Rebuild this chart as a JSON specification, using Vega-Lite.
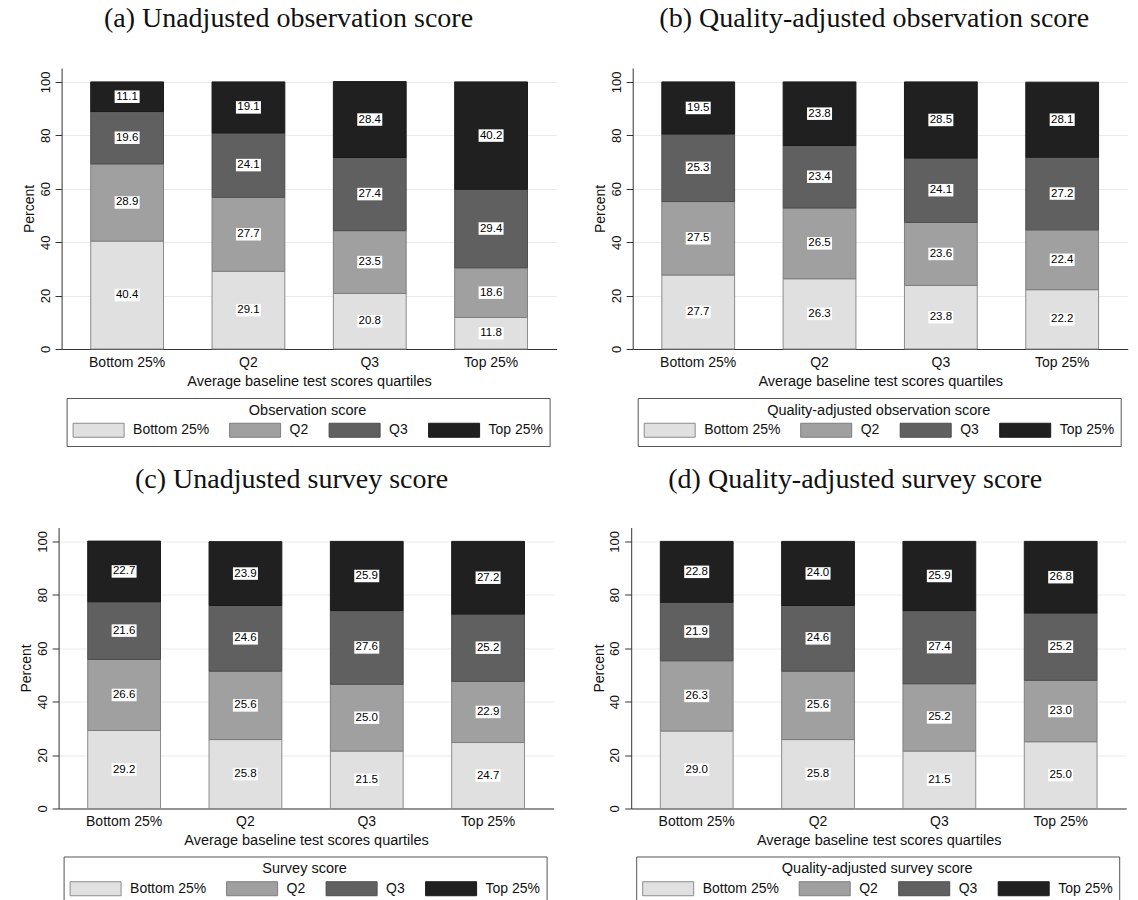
{
  "$schema": "https://vega.github.io/schema/vega-lite/v6.json",
  "padding": {"left": 12.6, "top": 5, "right": 0, "bottom": 0},
  "datasets": {
    "a": [
      {"q": "Bottom 25%", "g": "Bottom 25%", "v": 40.4}, {"q": "Bottom 25%", "g": "Q2", "v": 28.9}, {"q": "Bottom 25%", "g": "Q3", "v": 19.6}, {"q": "Bottom 25%", "g": "Top 25%", "v": 11.1},
      {"q": "Q2", "g": "Bottom 25%", "v": 29.1}, {"q": "Q2", "g": "Q2", "v": 27.7}, {"q": "Q2", "g": "Q3", "v": 24.1}, {"q": "Q2", "g": "Top 25%", "v": 19.1},
      {"q": "Q3", "g": "Bottom 25%", "v": 20.8}, {"q": "Q3", "g": "Q2", "v": 23.5}, {"q": "Q3", "g": "Q3", "v": 27.4}, {"q": "Q3", "g": "Top 25%", "v": 28.4},
      {"q": "Top 25%", "g": "Bottom 25%", "v": 11.8}, {"q": "Top 25%", "g": "Q2", "v": 18.6}, {"q": "Top 25%", "g": "Q3", "v": 29.4}, {"q": "Top 25%", "g": "Top 25%", "v": 40.2}
    ],
    "b": [
      {"q": "Bottom 25%", "g": "Bottom 25%", "v": 27.7}, {"q": "Bottom 25%", "g": "Q2", "v": 27.5}, {"q": "Bottom 25%", "g": "Q3", "v": 25.3}, {"q": "Bottom 25%", "g": "Top 25%", "v": 19.5},
      {"q": "Q2", "g": "Bottom 25%", "v": 26.3}, {"q": "Q2", "g": "Q2", "v": 26.5}, {"q": "Q2", "g": "Q3", "v": 23.4}, {"q": "Q2", "g": "Top 25%", "v": 23.8},
      {"q": "Q3", "g": "Bottom 25%", "v": 23.8}, {"q": "Q3", "g": "Q2", "v": 23.6}, {"q": "Q3", "g": "Q3", "v": 24.1}, {"q": "Q3", "g": "Top 25%", "v": 28.5},
      {"q": "Top 25%", "g": "Bottom 25%", "v": 22.2}, {"q": "Top 25%", "g": "Q2", "v": 22.4}, {"q": "Top 25%", "g": "Q3", "v": 27.2}, {"q": "Top 25%", "g": "Top 25%", "v": 28.1}
    ],
    "c": [
      {"q": "Bottom 25%", "g": "Bottom 25%", "v": 29.2}, {"q": "Bottom 25%", "g": "Q2", "v": 26.6}, {"q": "Bottom 25%", "g": "Q3", "v": 21.6}, {"q": "Bottom 25%", "g": "Top 25%", "v": 22.7},
      {"q": "Q2", "g": "Bottom 25%", "v": 25.8}, {"q": "Q2", "g": "Q2", "v": 25.6}, {"q": "Q2", "g": "Q3", "v": 24.6}, {"q": "Q2", "g": "Top 25%", "v": 23.9},
      {"q": "Q3", "g": "Bottom 25%", "v": 21.5}, {"q": "Q3", "g": "Q2", "v": 25.0}, {"q": "Q3", "g": "Q3", "v": 27.6}, {"q": "Q3", "g": "Top 25%", "v": 25.9},
      {"q": "Top 25%", "g": "Bottom 25%", "v": 24.7}, {"q": "Top 25%", "g": "Q2", "v": 22.9}, {"q": "Top 25%", "g": "Q3", "v": 25.2}, {"q": "Top 25%", "g": "Top 25%", "v": 27.2}
    ],
    "d": [
      {"q": "Bottom 25%", "g": "Bottom 25%", "v": 29.0}, {"q": "Bottom 25%", "g": "Q2", "v": 26.3}, {"q": "Bottom 25%", "g": "Q3", "v": 21.9}, {"q": "Bottom 25%", "g": "Top 25%", "v": 22.8},
      {"q": "Q2", "g": "Bottom 25%", "v": 25.8}, {"q": "Q2", "g": "Q2", "v": 25.6}, {"q": "Q2", "g": "Q3", "v": 24.6}, {"q": "Q2", "g": "Top 25%", "v": 24.0},
      {"q": "Q3", "g": "Bottom 25%", "v": 21.5}, {"q": "Q3", "g": "Q2", "v": 25.2}, {"q": "Q3", "g": "Q3", "v": 27.4}, {"q": "Q3", "g": "Top 25%", "v": 25.9},
      {"q": "Top 25%", "g": "Bottom 25%", "v": 25.0}, {"q": "Top 25%", "g": "Q2", "v": 23.0}, {"q": "Top 25%", "g": "Q3", "v": 25.2}, {"q": "Top 25%", "g": "Top 25%", "v": 26.8}
    ]
  },
  "resolve": {"scale": {"color": "independent", "stroke": "independent"}, "legend": {"color": "independent", "stroke": "independent"}},
  "columns": 1,
  "align": "none",
  "spacing": 18.5,
  "concat": [
    {
      "spacing": 37.1,
      "resolve": {"scale": {"color": "independent", "stroke": "independent"}, "legend": {"color": "independent", "stroke": "independent"}},
      "hconcat": [
        {
          "spacing": 0,
          "resolve": {"scale": {"color": "independent", "stroke": "independent"}, "legend": {"color": "independent", "stroke": "independent"}},
          "hconcat": [
            {"width": 6.6, "height": 1, "data": {"values": [{"s": 0}]}, "mark": {"type": "point", "opacity": 0}, "encoding": {}},
            {
              "title": {"text": "(a) Unadjusted observation score", "dx": -20.6, "offset": 34.8},
              "data": {"name": "a"},
              "width": 495, "height": 281,
              "encoding": {
                "x": {"field": "q", "type": "nominal", "sort": ["Bottom 25%", "Q2", "Q3", "Top 25%"], "scale": {"paddingInner": 0.4, "paddingOuter": 0.24}, "axis": {"title": "Average baseline test scores quartiles"}},
                "y": {"field": "v", "type": "quantitative", "stack": "zero", "scale": {"domain": [0, 105.2], "nice": false}, "axis": {"title": "Percent", "values": [0, 20, 40, 60, 80, 100], "titlePadding": 2.5}},
                "order": {"field": "g", "type": "ordinal", "sort": "ascending"}
              },
              "layer": [
                {"mark": {"type": "bar", "strokeWidth": 1},
                 "encoding": {
                   "color": {"field": "g", "type": "nominal", "scale": {"domain": ["Bottom 25%", "Q2", "Q3", "Top 25%"], "range": ["#e0e0e0", "#a0a0a0", "#606060", "#202020"]}, "legend": {"title": "Observation score", "orient": "none", "legendX": 5, "legendY": 330, "direction": "horizontal", "columns": 4}},
                   "stroke": {"field": "g", "type": "nominal", "scale": {"domain": ["Bottom 25%", "Q2", "Q3", "Top 25%"], "range": ["#8c8c8c", "#7d7d7d", "#4d4d4d", "#1a1a1a"]}, "legend": null}
                 }},
                {"mark": {"type": "point", "shape": "M-1,-0.5H1V0.5H-1Z", "size": 625, "filled": true, "fill": "#ffffff", "opacity": 1, "strokeWidth": 0},
                 "encoding": {"detail": {"field": "g"}, "y": {"field": "v", "type": "quantitative", "stack": "zero", "bandPosition": 0.5}}},
                {"mark": {"type": "text", "fontSize": 11.5, "color": "#000000", "baseline": "middle", "align": "center"},
                 "encoding": {"detail": {"field": "g"}, "y": {"field": "v", "type": "quantitative", "stack": "zero", "bandPosition": 0.5}, "text": {"field": "v", "type": "quantitative", "format": ".1f"}}}
              ]
            }
          ]
        },
        {
          "title": {"text": "(b) Quality-adjusted observation score", "dx": -6, "offset": 34.8},
          "data": {"name": "b"},
          "width": 495, "height": 281,
          "encoding": {
            "x": {"field": "q", "type": "nominal", "sort": ["Bottom 25%", "Q2", "Q3", "Top 25%"], "scale": {"paddingInner": 0.4, "paddingOuter": 0.24}, "axis": {"title": "Average baseline test scores quartiles"}},
            "y": {"field": "v", "type": "quantitative", "stack": "zero", "scale": {"domain": [0, 105.2], "nice": false}, "axis": {"title": "Percent", "values": [0, 20, 40, 60, 80, 100], "titlePadding": 2.5}},
            "order": {"field": "g", "type": "ordinal", "sort": "ascending"}
          },
          "layer": [
            {"mark": {"type": "bar", "strokeWidth": 1},
             "encoding": {
               "color": {"field": "g", "type": "nominal", "scale": {"domain": ["Bottom 25%", "Q2", "Q3", "Top 25%"], "range": ["#e0e0e0", "#a0a0a0", "#606060", "#202020"]}, "legend": {"title": "Quality-adjusted observation score", "orient": "none", "legendX": 5, "legendY": 330, "direction": "horizontal", "columns": 4}},
               "stroke": {"field": "g", "type": "nominal", "scale": {"domain": ["Bottom 25%", "Q2", "Q3", "Top 25%"], "range": ["#8c8c8c", "#7d7d7d", "#4d4d4d", "#1a1a1a"]}, "legend": null}
             }},
            {"mark": {"type": "point", "shape": "M-1,-0.5H1V0.5H-1Z", "size": 625, "filled": true, "fill": "#ffffff", "opacity": 1, "strokeWidth": 0},
             "encoding": {"detail": {"field": "g"}, "y": {"field": "v", "type": "quantitative", "stack": "zero", "bandPosition": 0.5}}},
            {"mark": {"type": "text", "fontSize": 11.5, "color": "#000000", "baseline": "middle", "align": "center"},
             "encoding": {"detail": {"field": "g"}, "y": {"field": "v", "type": "quantitative", "stack": "zero", "bandPosition": 0.5}, "text": {"field": "v", "type": "quantitative", "format": ".1f"}}}
          ]
        }
      ]
    },
    {
      "spacing": 38.6,
      "resolve": {"scale": {"color": "independent", "stroke": "independent"}, "legend": {"color": "independent", "stroke": "independent"}},
      "hconcat": [
        {
          "spacing": 0,
          "resolve": {"scale": {"color": "independent", "stroke": "independent"}, "legend": {"color": "independent", "stroke": "independent"}},
          "hconcat": [
            {"width": 1, "height": 1, "data": {"values": [{"s": 0}]}, "mark": {"type": "point", "opacity": 0}, "encoding": {}},
            {
              "title": {"text": "(c) Unadjusted survey score", "dx": -14.5, "offset": 33.6},
              "data": {"name": "c"},
              "width": 495, "height": 281,
              "encoding": {
                "x": {"field": "q", "type": "nominal", "sort": ["Bottom 25%", "Q2", "Q3", "Top 25%"], "scale": {"paddingInner": 0.4, "paddingOuter": 0.24}, "axis": {"title": "Average baseline test scores quartiles"}},
                "y": {"field": "v", "type": "quantitative", "stack": "zero", "scale": {"domain": [0, 105.2], "nice": false}, "axis": {"title": "Percent", "values": [0, 20, 40, 60, 80, 100], "titlePadding": 2.5}},
                "order": {"field": "g", "type": "ordinal", "sort": "ascending"}
              },
              "layer": [
                {"mark": {"type": "bar", "strokeWidth": 1},
                 "encoding": {
                   "color": {"field": "g", "type": "nominal", "scale": {"domain": ["Bottom 25%", "Q2", "Q3", "Top 25%"], "range": ["#e0e0e0", "#a0a0a0", "#606060", "#202020"]}, "legend": {"title": "Survey score", "orient": "none", "legendX": 5, "legendY": 329, "direction": "horizontal", "columns": 4}},
                   "stroke": {"field": "g", "type": "nominal", "scale": {"domain": ["Bottom 25%", "Q2", "Q3", "Top 25%"], "range": ["#8c8c8c", "#7d7d7d", "#4d4d4d", "#1a1a1a"]}, "legend": null}
                 }},
                {"mark": {"type": "point", "shape": "M-1,-0.5H1V0.5H-1Z", "size": 625, "filled": true, "fill": "#ffffff", "opacity": 1, "strokeWidth": 0},
                 "encoding": {"detail": {"field": "g"}, "y": {"field": "v", "type": "quantitative", "stack": "zero", "bandPosition": 0.5}}},
                {"mark": {"type": "text", "fontSize": 11.5, "color": "#000000", "baseline": "middle", "align": "center"},
                 "encoding": {"detail": {"field": "g"}, "y": {"field": "v", "type": "quantitative", "stack": "zero", "bandPosition": 0.5}, "text": {"field": "v", "type": "quantitative", "format": ".1f"}}}
              ]
            }
          ]
        },
        {
          "title": {"text": "(d) Quality-adjusted survey score", "dx": -23.5, "offset": 33.6},
          "data": {"name": "d"},
          "width": 495, "height": 281,
          "encoding": {
            "x": {"field": "q", "type": "nominal", "sort": ["Bottom 25%", "Q2", "Q3", "Top 25%"], "scale": {"paddingInner": 0.4, "paddingOuter": 0.24}, "axis": {"title": "Average baseline test scores quartiles"}},
            "y": {"field": "v", "type": "quantitative", "stack": "zero", "scale": {"domain": [0, 105.2], "nice": false}, "axis": {"title": "Percent", "values": [0, 20, 40, 60, 80, 100], "titlePadding": 2.5}},
            "order": {"field": "g", "type": "ordinal", "sort": "ascending"}
          },
          "layer": [
            {"mark": {"type": "bar", "strokeWidth": 1},
             "encoding": {
               "color": {"field": "g", "type": "nominal", "scale": {"domain": ["Bottom 25%", "Q2", "Q3", "Top 25%"], "range": ["#e0e0e0", "#a0a0a0", "#606060", "#202020"]}, "legend": {"title": "Quality-adjusted survey score", "orient": "none", "legendX": 5, "legendY": 329, "direction": "horizontal", "columns": 4}},
               "stroke": {"field": "g", "type": "nominal", "scale": {"domain": ["Bottom 25%", "Q2", "Q3", "Top 25%"], "range": ["#8c8c8c", "#7d7d7d", "#4d4d4d", "#1a1a1a"]}, "legend": null}
             }},
            {"mark": {"type": "point", "shape": "M-1,-0.5H1V0.5H-1Z", "size": 625, "filled": true, "fill": "#ffffff", "opacity": 1, "strokeWidth": 0},
             "encoding": {"detail": {"field": "g"}, "y": {"field": "v", "type": "quantitative", "stack": "zero", "bandPosition": 0.5}}},
            {"mark": {"type": "text", "fontSize": 11.5, "color": "#000000", "baseline": "middle", "align": "center"},
             "encoding": {"detail": {"field": "g"}, "y": {"field": "v", "type": "quantitative", "stack": "zero", "bandPosition": 0.5}, "text": {"field": "v", "type": "quantitative", "format": ".1f"}}}
          ]
        }
      ]
    }
  ],
  "config": {
    "font": "Liberation Sans",
    "view": {"stroke": null},
    "title": {"font": "Liberation Serif", "fontSize": 28, "fontWeight": "normal", "color": "#111111", "anchor": "middle", "frame": "group", "baseline": "alphabetic"},
    "axis": {"labelFont": "Liberation Sans", "titleFont": "Liberation Sans", "labelColor": "#111111", "titleColor": "#111111", "titleFontWeight": "normal", "domainColor": "#333333", "tickColor": "#333333"},
    "axisX": {"labelAngle": 0, "labelFontSize": 14, "titleFontSize": 14.5, "ticks": false, "tickSize": 0, "labelPadding": 6.4, "titlePadding": 5, "grid": false},
    "axisY": {"labelAngle": 270, "labelAlign": "center", "labelBaseline": "alphabetic", "labelFontSize": 13, "labelPadding": 6, "tickSize": 6.5, "titleFontSize": 14, "grid": true, "gridColor": "#ebebeb"},
    "legend": {
      "symbolType": "M-1,-1H6.286V1H-1Z", "symbolSize": 196, "symbolStrokeColor": "#8a8a8a", "symbolStrokeWidth": 1, "symbolOpacity": 1,
      "labelOffset": 45.5, "columnPadding": 17.5, "labelFontSize": 14, "labelFont": "Liberation Sans", "labelColor": "#111111",
      "titleFontSize": 14.5, "titleFont": "Liberation Sans", "titleFontWeight": "normal", "titleColor": "#111111", "titleAnchor": "middle", "titleAlign": "center", "titleLimit": 600,
      "strokeColor": "#555555", "fillColor": "#ffffff", "padding": 6, "titlePadding": 4
    }
  }
}
